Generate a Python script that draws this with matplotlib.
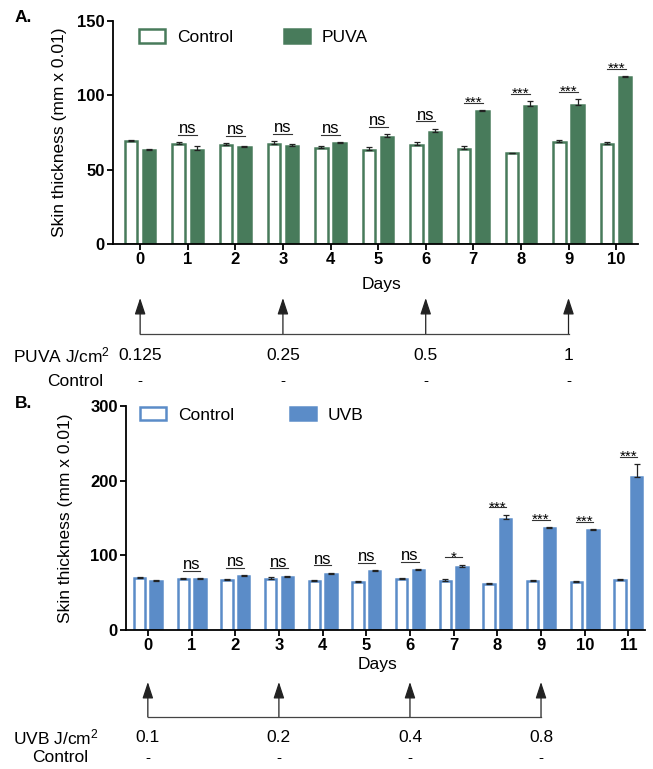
import matplotlib
matplotlib.use('Agg')
import matplotlib.pyplot as plt
from matplotlib.transforms import blended_transform_factory
from matplotlib.lines import Line2D
import numpy as np

plt.rcParams['font.family'] = ['Liberation Sans', 'DejaVu Sans']
plt.rcParams['mathtext.fontset'] = 'custom'
plt.rcParams['mathtext.rm'] = 'Liberation Sans'
plt.rcParams['mathtext.default'] = 'regular'

# panel A : PUVA
days_a = list(range(11))
ctrl_a = [69, 67, 66.5, 67.5, 64.5, 63.5, 66.5, 64, 61, 68.5, 67]
ctrl_a_err = [0.8, 1.5, 1.2, 1.5, 1.5, 1.5, 2, 2, 0.5, 1.5, 1.8]
puva = [63, 63.5, 65, 66, 68, 72, 75.5, 89.5, 92.5, 93.5, 112.5]
puva_err = [1, 2.5, 1, 1.5, 0.5, 2, 2, 0.5, 3.5, 4, 0.5]
sig_a = ['', 'ns', 'ns', 'ns', 'ns', 'ns', 'ns', '***', '***', '***', '***']
puva_dose_days = [0, 3, 6, 9]
puva_doses = ['0.125', '0.25', '0.5', '1']

# panel B : UVB
days_b = list(range(12))
ctrl_b = [70, 68, 67, 68.5, 65.5, 64.5, 68, 65.5, 62, 65.5, 64, 67]
ctrl_b_err = [1, 1.5, 1.5, 2, 1.5, 1.5, 2, 2.5, 0.8, 1.5, 1.2, 1.2]
uvb = [66, 68, 72, 71, 75, 79.5, 80, 85, 149, 137, 133.5, 205]
uvb_err = [0.8, 1, 1.2, 1.5, 1.5, 1, 1.5, 2.5, 5.5, 1, 1.5, 17]
sig_b = ['', 'ns', 'ns', 'ns', 'ns', 'ns', 'ns', '*', '***', '***', '***', '***']
uvb_dose_days = [0, 3, 6, 9]
uvb_doses = ['0.1', '0.2', '0.4', '0.8']

green = '#487b5b'
blue = '#5b8cc8'
W, H = 653, 769

fig = plt.figure(figsize=(W / 100, H / 100), dpi=100)


def fy(p):
    return 1 - p / H


def panel(rect, days, ctrl, ctrl_err, trt, trt_err, sig, color, name, ymax, ystep):
    ax = fig.add_axes(rect)
    x = np.array(days)
    w, off = 0.26, 0.19
    ax.bar(x - off, ctrl, w, color='white', edgecolor=color, linewidth=1.8, label='Control', zorder=2)
    ax.bar(x + off, trt, w, color=color, edgecolor=color, linewidth=1.8, label=name, zorder=2)
    for xs, v, e in [(x - off, ctrl, ctrl_err), (x + off, trt, trt_err)]:
        ax.errorbar(xs, v, yerr=[np.zeros(len(x)), e], fmt='none', ecolor='#222',
                    elinewidth=0.9, capsize=2.4, capthick=0.9, zorder=3)
    for d, c, ce, t, te, s in zip(days, ctrl, ctrl_err, trt, trt_err, sig):
        if not s:
            continue
        top = max(c + ce, t + te) + ymax * 0.033
        ax.plot([d - 0.2, d + 0.2], [top, top], color='#333', lw=0.8, clip_on=False)
        if s == 'ns':
            ax.annotate(s, (d, top), xytext=(0, 1.2), textcoords='offset points',
                        ha='center', va='baseline', fontsize=12)
        else:
            ax.annotate(s, (d, top), xytext=(0, -3.0), textcoords='offset points',
                        ha='center', va='baseline', fontsize=11)
    ax.set_ylim(0, ymax)
    ax.set_yticks(np.arange(0, ymax + 1, ystep))
    ax.set_xticks(days)
    for sp in ['top', 'right']:
        ax.spines[sp].set_visible(False)
    for sp in ['left', 'bottom']:
        ax.spines[sp].set_linewidth(1.3)
    ax.tick_params(direction='out', length=4, width=1.3, labelsize=12, pad=2)
    for lab in ax.get_xticklabels() + ax.get_yticklabels():
        lab.set_fontweight('bold')
    ax.set_ylabel('Skin thickness (mm x 0.01)', fontsize=12.5)
    ax.set_xlabel('Days', fontsize=12.5)
    return ax


def schedule(ax, dose_days, doses, label, tip, line, dose_y, ctrl_y, label_x, ctrl_x):
    tr = blended_transform_factory(ax.transData, fig.transFigure)
    for d in dose_days:
        ax.annotate('', xy=(d, fy(tip)), xycoords=tr, xytext=(d, fy(line)), textcoords=tr,
                    arrowprops=dict(arrowstyle='-|>,head_length=1.0,head_width=0.33',
                                    color='#222', lw=0.9, shrinkA=0, shrinkB=0),
                    annotation_clip=False)
    fig.add_artist(Line2D([dose_days[0], dose_days[-1]], [fy(line), fy(line)],
                          transform=tr, color='#444', lw=0.9))
    for d, s in zip(dose_days, doses):
        fig.text(0, 0, s, transform=tr, fontsize=12.5, ha='center', va='center').set_position((d, fy(dose_y)))
        fig.text(0, 0, '-', transform=tr, fontsize=11, ha='center', va='center').set_position((d, fy(ctrl_y)))
    fig.text(label_x / W, fy(dose_y), label, fontsize=12.5, ha='left', va='center')
    fig.text(ctrl_x / W, fy(ctrl_y), 'Control', fontsize=12.5, ha='right', va='center')


# panel A
ax1 = panel([113 / W, fy(244), 525 / W, 223 / H], days_a, ctrl_a, ctrl_a_err, puva, puva_err,
            sig_a, green, 'PUVA', 150, 50)
ax1.set_xlim(-0.57, 10.46)
ax1.yaxis.set_label_coords(-0.088, 0.5)
ax1.xaxis.set_label_coords(0.512, -0.148)
ax1.legend(ncol=2, loc='center left', bbox_to_anchor=(0.05, 0.928), frameon=False, fontsize=12.5,
           handlelength=1.5, handleheight=0.8, handletextpad=0.7, columnspacing=2.9, borderpad=0,
           borderaxespad=0)
schedule(ax1, puva_dose_days, puva_doses, 'PUVA J/cm$^2$', 298, 334, 355, 381, 13, 103)
fig.text(15 / W, fy(18), 'A.', fontsize=12.5, fontweight='bold', va='center')

# panel B
ax2 = panel([126 / W, fy(630), 519 / W, 224 / H], days_b, ctrl_b, ctrl_b_err, uvb, uvb_err,
            sig_b, blue, 'UVB', 300, 100)
ax2.set_xlim(-0.5, 11.38)
ax2.yaxis.set_label_coords(-0.102, 0.5)
ax2.xaxis.set_label_coords(0.484, -0.12)
ax2.legend(ncol=2, loc='center left', bbox_to_anchor=(0.027, 0.96), frameon=False, fontsize=12.5,
           handlelength=1.5, handleheight=0.8, handletextpad=0.7, columnspacing=3.2, borderpad=0,
           borderaxespad=0)
schedule(ax2, uvb_dose_days, uvb_doses, 'UVB J/cm$^2$', 682, 717, 737, 758, 13, 88)
fig.text(15 / W, fy(404), 'B.', fontsize=12.5, fontweight='bold', va='center')

fig.savefig('out.png', dpi=100)
